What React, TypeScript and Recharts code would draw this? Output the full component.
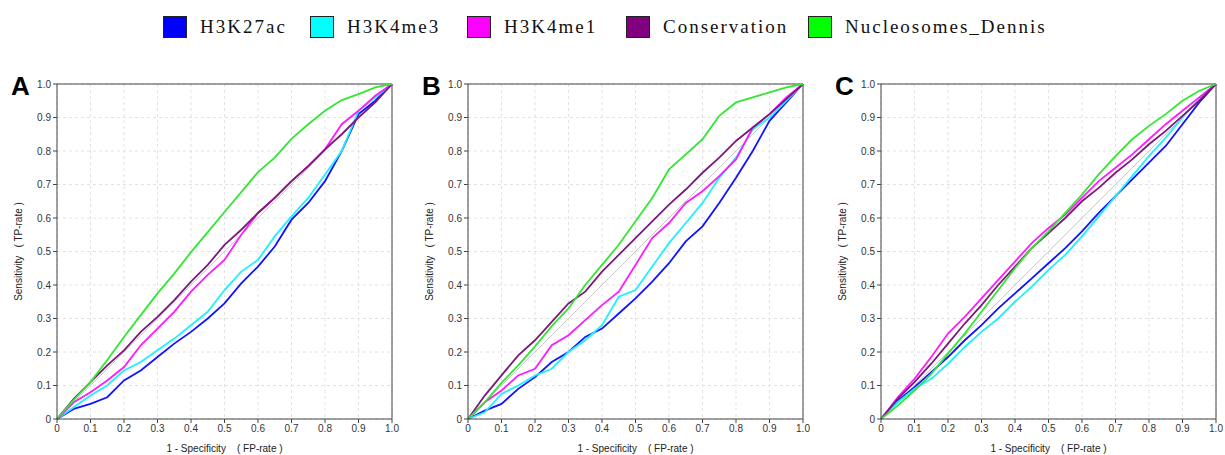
import {
  LineChart,
  Line,
  XAxis,
  YAxis,
  CartesianGrid,
  ReferenceLine,
} from "recharts";

// --- shared x grid (1 - specificity) ---
const fpr = [0, 0.05, 0.1, 0.15, 0.2, 0.25, 0.3, 0.35, 0.4, 0.45, 0.5, 0.55, 0.6, 0.65, 0.7, 0.75, 0.8, 0.85, 0.9, 0.95, 1.0];
const axisTicks = [0, 0.1, 0.2, 0.3, 0.4, 0.5, 0.6, 0.7, 0.8, 0.9, 1.0];

const seriesNames = ["H3K27ac", "H3K4me3", "H3K4me1", "Conservation", "Nucleosomes_Dennis"];
const seriesColors = ["#1212ff", "#1ff0ff", "#ff1aff", "#7a1a7a", "#33e633"];
const swatchColors = ["#0000ff", "#00ffff", "#ff00ff", "#800080", "#00ff00"];
// legend swatch x positions
const legendX = [163, 310, 467, 626, 808];

// --- panel A ---
const h3k27acA = [0, 0.03, 0.045, 0.065, 0.115, 0.145, 0.185, 0.225, 0.26, 0.3, 0.345, 0.405, 0.455, 0.515, 0.595, 0.645, 0.71, 0.8, 0.91, 0.95, 1];
const h3k4me3A = [0, 0.035, 0.07, 0.1, 0.145, 0.17, 0.205, 0.24, 0.28, 0.32, 0.385, 0.44, 0.475, 0.545, 0.605, 0.66, 0.73, 0.8, 0.92, 0.96, 1];
const h3k4me1A = [0, 0.05, 0.08, 0.115, 0.155, 0.22, 0.27, 0.32, 0.38, 0.43, 0.475, 0.55, 0.615, 0.66, 0.71, 0.755, 0.805, 0.88, 0.92, 0.965, 1];
const consA = [0, 0.06, 0.11, 0.16, 0.205, 0.26, 0.305, 0.355, 0.41, 0.46, 0.52, 0.565, 0.615, 0.66, 0.71, 0.755, 0.805, 0.85, 0.9, 0.945, 1];
const nucA = [0, 0.057, 0.11, 0.176, 0.245, 0.31, 0.375, 0.434, 0.498, 0.558, 0.618, 0.677, 0.737, 0.78, 0.836, 0.88, 0.92, 0.952, 0.97, 0.99, 1];

// --- panel B ---
const h3k27acB = [0, 0.025, 0.045, 0.09, 0.125, 0.17, 0.2, 0.245, 0.27, 0.315, 0.36, 0.41, 0.465, 0.53, 0.575, 0.645, 0.72, 0.8, 0.89, 0.945, 1];
const h3k4me3B = [0, 0.02, 0.075, 0.1, 0.13, 0.15, 0.2, 0.235, 0.28, 0.365, 0.385, 0.455, 0.525, 0.585, 0.645, 0.72, 0.78, 0.865, 0.9, 0.95, 1];
const h3k4me1B = [0, 0.05, 0.085, 0.13, 0.15, 0.22, 0.25, 0.295, 0.34, 0.38, 0.46, 0.54, 0.585, 0.645, 0.68, 0.725, 0.775, 0.87, 0.91, 0.96, 1];
const consB = [0, 0.07, 0.13, 0.19, 0.235, 0.29, 0.345, 0.38, 0.44, 0.49, 0.54, 0.59, 0.64, 0.685, 0.735, 0.78, 0.83, 0.87, 0.91, 0.955, 1];
const nucB = [0, 0.05, 0.108, 0.16, 0.217, 0.277, 0.33, 0.4, 0.46, 0.52, 0.59, 0.66, 0.745, 0.79, 0.835, 0.905, 0.945, 0.96, 0.975, 0.99, 1];

// --- panel C ---
const h3k27acC = [0, 0.055, 0.095, 0.14, 0.185, 0.235, 0.28, 0.33, 0.375, 0.42, 0.465, 0.51, 0.56, 0.615, 0.665, 0.715, 0.765, 0.815, 0.88, 0.945, 1];
const h3k4me3C = [0, 0.05, 0.09, 0.12, 0.165, 0.215, 0.26, 0.3, 0.35, 0.395, 0.445, 0.49, 0.545, 0.605, 0.665, 0.725, 0.785, 0.84, 0.9, 0.955, 1];
const h3k4me1C = [0, 0.065, 0.12, 0.185, 0.255, 0.305, 0.36, 0.415, 0.47, 0.525, 0.57, 0.61, 0.66, 0.71, 0.75, 0.79, 0.835, 0.88, 0.92, 0.96, 1];
const consC = [0, 0.06, 0.11, 0.165, 0.225, 0.285, 0.34, 0.4, 0.455, 0.51, 0.555, 0.6, 0.65, 0.69, 0.735, 0.775, 0.82, 0.86, 0.905, 0.95, 1];
const nucC = [0, 0.04, 0.085, 0.135, 0.195, 0.255, 0.32, 0.385, 0.45, 0.51, 0.56, 0.615, 0.67, 0.73, 0.785, 0.835, 0.875, 0.91, 0.95, 0.98, 1];

const panels = [
  { letter: "A", left: 0, series: [h3k27acA, h3k4me3A, h3k4me1A, consA, nucA] },
  { letter: "B", left: 411, series: [h3k27acB, h3k4me3B, h3k4me1B, consB, nucB] },
  { letter: "C", left: 824, series: [h3k27acC, h3k4me3C, h3k4me1C, consC, nucC] },
];

const buildRows = (series: number[][]) =>
  fpr.map((x, i) => {
    const row: any = { fpr: x };
    series.forEach((s, k) => (row["s" + k] = s[i]));
    return row;
  });

const fmt = (v: number) => (v === 0 ? "0" : v.toFixed(1));
const tickStyle = { fill: "#333", fontSize: 10, fontFamily: "Liberation Sans, Arial, sans-serif" };
const NB = "\u00A0";

const RocPanel = ({ letter, left, series }: { letter: string; left: number; series: number[][] }) => {
  const data = buildRows(series);
  return (
    <div style={{ position: "absolute", left, top: 0, width: 410, height: 455 }}>
      <div
        style={{
          position: "absolute",
          left: 11,
          top: 71,
          fontSize: 26,
          fontWeight: "bold",
          fontFamily: "Liberation Sans, Arial, sans-serif",
          color: "#000",
        }}
      >
        {letter}
      </div>
      <LineChart width={410} height={455} data={data} margin={{ top: 84, right: 18, left: 12, bottom: 0 }}>
        <CartesianGrid stroke="#e2e2e2" strokeDasharray="3 3" />
        <XAxis
          type="number"
          dataKey="fpr"
          domain={[0, 1]}
          ticks={axisTicks}
          tickFormatter={fmt}
          tick={tickStyle}
          tickSize={4}
          height={36}
          stroke="#444"
          label={{
            value: `1 - Specificity${NB}${NB}${NB}${NB}( FP-rate )`,
            position: "insideBottom",
            offset: 3,
            style: { ...tickStyle, fill: "#222" },
          }}
        />
        <YAxis
          type="number"
          domain={[0, 1]}
          ticks={axisTicks}
          tickFormatter={fmt}
          tick={tickStyle}
          tickSize={4}
          width={45}
          stroke="#444"
          label={{
            value: `Sensitivity${NB}${NB}${NB}( TP-rate )`,
            angle: -90,
            position: "insideLeft",
            offset: 6,
            style: { ...tickStyle, fill: "#222", textAnchor: "middle" },
          }}
        />
        <ReferenceLine y={1} stroke="#444" />
        <ReferenceLine x={1} stroke="#444" />
        <ReferenceLine
          segment={[
            { x: 0, y: 0 },
            { x: 1, y: 1 },
          ]}
          stroke="#c8c8c8"
        />
        {seriesNames.map((name, k) => (
          <Line
            key={name}
            type="linear"
            dataKey={"s" + k}
            name={name}
            stroke={seriesColors[k]}
            strokeWidth={1.8}
            dot={false}
            isAnimationActive={false}
          />
        ))}
      </LineChart>
    </div>
  );
};

export default function App() {
  return (
    <div style={{ position: "absolute", left: 0, top: 0, width: 1225, height: 455, background: "#fff", overflow: "hidden" }}>
      {seriesNames.map((name, k) => (
        <div
          key={name}
          style={{ position: "absolute", left: legendX[k], top: 16, display: "flex", alignItems: "center" }}
        >
          <div
            style={{
              width: 22,
              height: 20,
              background: swatchColors[k],
              border: "1px solid #222",
              marginRight: 13,
            }}
          />
          <span
            style={{
              fontFamily: "Liberation Serif, Times New Roman, serif",
              fontSize: 19,
              letterSpacing: 2,
              color: "#111",
              whiteSpace: "nowrap",
            }}
          >
            {name}
          </span>
        </div>
      ))}
      {panels.map((p) => (
        <RocPanel key={p.letter} letter={p.letter} left={p.left} series={p.series} />
      ))}
    </div>
  );
}
